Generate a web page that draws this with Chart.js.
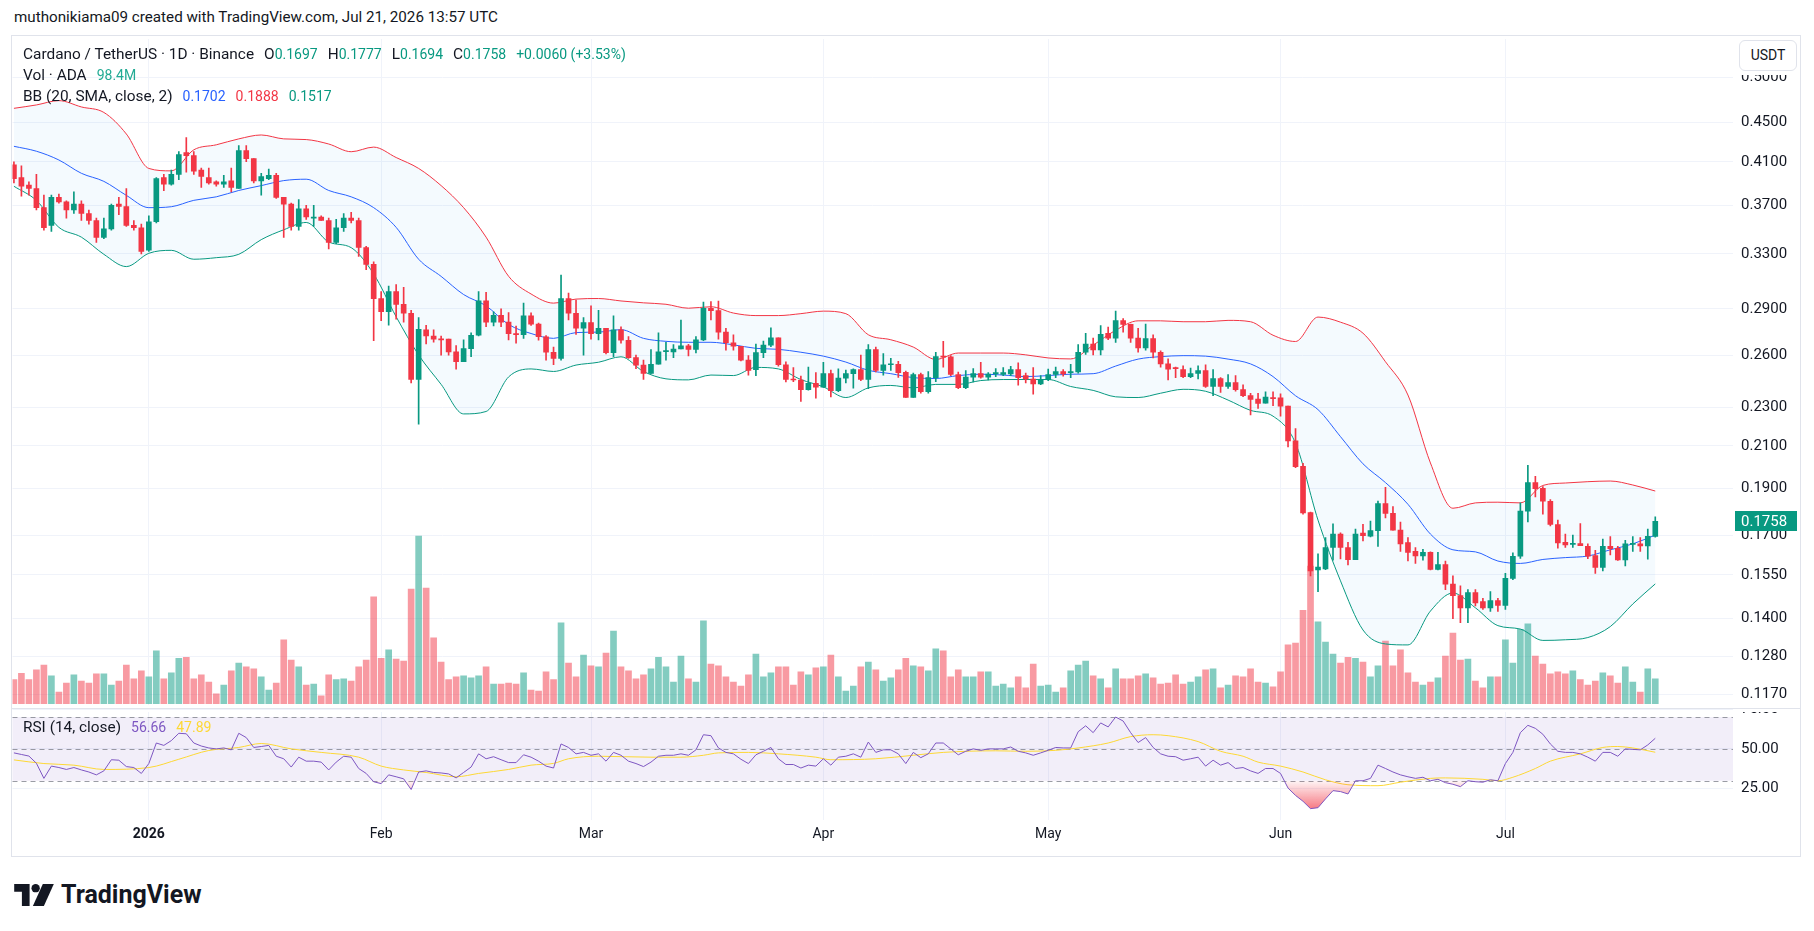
<!DOCTYPE html>
<html><head><meta charset="utf-8">
<script src="https://cdn.jsdelivr.net/npm/chart.js@4.4.1/dist/chart.umd.min.js"></script>
<style>
html,body{margin:0;padding:0;background:#fff;width:1814px;height:931px;overflow:hidden;font-family:Roboto,"Noto Sans",sans-serif;color:#131722}
#top{position:absolute;left:14px;top:8px;font-size:15.2px;white-space:nowrap}
#frame{position:absolute;left:11px;top:35px;width:1790px;height:822px;border:1px solid #e0e3eb;box-sizing:border-box}
canvas{position:absolute}
#cp{left:12px;top:22px;z-index:2}
#cr{left:12px;top:695px;z-index:1}
#sep{position:absolute;left:12px;top:708px;width:1788px;height:1px;background:#e0e3eb;z-index:3}
#axcover{position:absolute;left:1734px;top:36px;width:66px;height:39px;background:#fff;z-index:3}
.leg{position:absolute;left:23px;font-size:15.4px;white-space:nowrap;z-index:4;line-height:20px}
.leg span{font-size:14px;margin-left:10px}
.leg span.n{margin-left:0}
.leg .k{font-size:15.4px}
.g{color:#089981}
#usdt{position:absolute;left:1739px;top:40px;width:58px;height:31px;border:1px solid #e0e3eb;border-radius:6px;background:#fff;font-size:14px;line-height:29px;text-align:center;box-sizing:border-box;z-index:4}
#logo{position:absolute;left:14px;top:880px;display:flex;align-items:center;gap:7px;font-weight:bold;font-size:25px;color:#131722}
</style></head>
<body>
<div id="top">muthonikiama09 created with TradingView.com, Jul 21, 2026 13:57 UTC</div>
<div id="frame"></div>
<canvas id="cp" width="1788" height="700"></canvas>
<canvas id="cr" width="1788" height="161"></canvas>
<div id="sep"></div>
<div id="axcover"></div>
<div class="leg" style="top:44px">Cardano / TetherUS · 1D · Binance<span class="k">O</span><span class="g n">0.1697</span><span class="k">H</span><span class="g n">0.1777</span><span class="k">L</span><span class="g n">0.1694</span><span class="k">C</span><span class="g n">0.1758</span><span class="g">+0.0060 (+3.53%)</span></div>
<div class="leg" style="top:65px">Vol · ADA<span style="color:#22ab94">98.4M</span></div>
<div class="leg" style="top:86px">BB (20, SMA, close, 2)<span style="color:#2962FF">0.1702</span><span style="color:#F23645">0.1888</span><span style="color:#089981">0.1517</span></div>
<div class="leg" style="top:717px">RSI (14, close)<span style="color:#7E57C2">56.66</span><span style="color:#FDD835">47.89</span></div>
<div id="usdt">USDT</div>
<div id="logo"><svg width="40" height="22" viewBox="0 0 36 20"><path d="M0 0H14V20H7V7H0Z" fill="#131722"/><circle cx="19.5" cy="3.8" r="3.8" fill="#131722"/><path d="M26 0H36L27 20H17Z" fill="#131722"/></svg><span>TradingView</span></div>
<script>
// ---- data: day index 0 = 2025-12-14 ----
const monthDays = [18,49,77,108,138,169,199];
const monthLabels = ['2026','Feb','Mar','Apr','May','Jun','Jul'];
const priceTicks = [0.117,0.128,0.14,0.155,0.17,0.19,0.21,0.23,0.26,0.29,0.33,0.37,0.41,0.45,0.5];
const rsiTicks = [25,50,75];

const open = [
0.407,0.395,0.388,0.385,0.368,0.353,0.377,0.373,0.366,0.371,
0.363,0.357,0.343,0.350,0.371,0.369,0.353,0.351,0.333,0.356,
0.395,0.389,0.398,0.419,0.416,0.402,0.395,0.391,0.389,0.392,
0.385,0.421,0.413,0.392,0.394,0.397,0.377,0.371,0.352,0.367,
0.359,0.360,0.357,0.339,0.351,0.359,0.357,0.335,0.322,0.297,
0.288,0.302,0.293,0.287,0.2455,0.276,0.272,0.270,0.270,0.262,
0.256,0.264,0.2725,0.2955,0.281,0.2855,0.281,0.2735,0.2728,0.2853,
0.2797,0.2715,0.2618,0.258,0.297,0.287,0.277,0.2808,0.2735,0.277,
0.2616,0.276,0.2693,0.2585,0.254,0.249,0.2545,0.2622,0.262,0.2638,
0.2657,0.2635,0.2695,0.2903,0.2888,0.2745,0.2677,0.2655,0.257,0.2513,
0.2616,0.2662,0.2709,0.2542,0.2457,0.2452,0.2397,0.2433,0.2411,0.2489,
0.2391,0.2463,0.2489,0.2513,0.2455,0.2635,0.2508,0.2542,0.2545,0.2497,
0.2354,0.2484,0.2386,0.2466,0.2595,0.259,0.2484,0.2408,0.2469,0.2489,
0.2469,0.2487,0.2485,0.2487,0.2513,0.2478,0.2458,0.2429,0.2455,0.2484,
0.2502,0.2495,0.2499,0.2618,0.2668,0.2633,0.2737,0.2706,0.2821,0.2795,
0.2706,0.2645,0.2703,0.2618,0.2547,0.2522,0.2513,0.2472,0.249,0.2507,
0.2415,0.2461,0.2415,0.2438,0.2397,0.2364,0.2345,0.2322,0.2352,0.2352,
0.2306,0.2125,0.2001,0.1795,0.1568,0.1572,0.1653,0.1706,0.1653,0.1606,
0.171,0.1698,0.172,0.1833,0.1791,0.1722,0.1672,0.1638,0.162,0.1634,
0.157,0.1588,0.1516,0.1476,0.1434,0.1486,0.1455,0.1434,0.1459,0.1442,
0.1537,0.1619,0.1801,0.1926,0.19,0.1843,0.1745,0.1673,0.1665,0.1668,
0.1657,0.1622,0.1577,0.1657,0.165,0.1605,0.1665,0.1667,0.1659,0.1697];

const high = [
0.410,0.406,0.391,0.398,0.379,0.379,0.380,0.374,0.382,0.374,
0.366,0.359,0.359,0.371,0.377,0.385,0.357,0.354,0.361,0.395,
0.398,0.402,0.420,0.434,0.420,0.404,0.404,0.392,0.397,0.404,
0.426,0.426,0.413,0.399,0.403,0.399,0.377,0.372,0.375,0.370,
0.370,0.361,0.359,0.358,0.363,0.364,0.359,0.336,0.324,0.302,
0.306,0.307,0.305,0.289,0.284,0.279,0.276,0.272,0.270,0.266,
0.2695,0.274,0.302,0.3015,0.288,0.290,0.2875,0.2785,0.294,0.2872,
0.2804,0.2722,0.265,0.314,0.301,0.296,0.284,0.292,0.289,0.277,
0.2853,0.278,0.2716,0.260,0.257,0.2635,0.274,0.268,0.2665,0.2824,
0.2667,0.2716,0.2946,0.295,0.2953,0.277,0.2728,0.2655,0.2598,0.2668,
0.2687,0.2773,0.2709,0.256,0.2525,0.2475,0.2528,0.2495,0.2557,0.251,
0.2517,0.251,0.2518,0.2601,0.2665,0.265,0.261,0.258,0.2563,0.2505,
0.2492,0.2492,0.2501,0.2618,0.2686,0.2598,0.2498,0.2507,0.2519,0.2557,
0.2495,0.2519,0.2525,0.2533,0.2553,0.2493,0.2525,0.2478,0.2516,0.2528,
0.2513,0.2545,0.2665,0.2737,0.2706,0.2788,0.2778,0.2885,0.2834,0.2798,
0.2769,0.2798,0.2727,0.2627,0.2577,0.2528,0.2536,0.2522,0.2536,0.2542,
0.2513,0.2466,0.2484,0.2478,0.2425,0.2377,0.2377,0.2385,0.2385,0.2374,
0.2306,0.2187,0.2015,0.1797,0.1628,0.1692,0.1748,0.1711,0.1673,0.1726,
0.1746,0.1759,0.1844,0.1904,0.182,0.1755,0.1692,0.1653,0.1646,0.1636,
0.1634,0.1601,0.1546,0.151,0.1497,0.1497,0.1466,0.149,0.1466,0.1555,
0.1632,0.1836,0.2006,0.1955,0.1908,0.185,0.1763,0.1706,0.1702,0.1749,
0.1667,0.1642,0.1686,0.1696,0.1657,0.1681,0.1696,0.1692,0.1726,0.1777];

const low = [
0.390,0.378,0.379,0.366,0.349,0.348,0.372,0.359,0.363,0.357,
0.354,0.339,0.342,0.349,0.362,0.352,0.349,0.330,0.332,0.355,
0.383,0.388,0.393,0.400,0.398,0.386,0.389,0.387,0.386,0.382,
0.385,0.410,0.390,0.379,0.393,0.376,0.343,0.349,0.349,0.358,
0.352,0.357,0.334,0.338,0.348,0.355,0.328,0.318,0.269,0.282,
0.279,0.283,0.281,0.2435,0.221,0.267,0.268,0.260,0.260,0.2515,
0.256,0.259,0.272,0.278,0.2785,0.278,0.2695,0.2675,0.2705,0.2788,
0.2693,0.2569,0.2542,0.257,0.2825,0.273,0.260,0.270,0.2695,0.2607,
0.259,0.2675,0.258,0.2518,0.2455,0.249,0.2545,0.257,0.2585,0.2638,
0.2595,0.2613,0.269,0.2825,0.270,0.263,0.263,0.2565,0.248,0.2478,
0.2585,0.2652,0.2533,0.2441,0.2443,0.2331,0.2394,0.235,0.241,0.2357,
0.2386,0.2435,0.2405,0.2449,0.2402,0.250,0.248,0.2508,0.2467,0.2354,
0.2354,0.2378,0.2378,0.2443,0.2528,0.2478,0.2402,0.2402,0.2441,0.2463,
0.2452,0.2472,0.2478,0.2478,0.2422,0.2435,0.2372,0.2426,0.2449,0.2466,
0.2475,0.2466,0.2492,0.2604,0.2601,0.2601,0.2697,0.2679,0.2745,0.2679,
0.2618,0.263,0.2583,0.2528,0.2452,0.2466,0.2466,0.2466,0.2458,0.241,
0.2364,0.2382,0.2404,0.2388,0.2358,0.2258,0.2293,0.2322,0.2309,0.2252,
0.2095,0.1995,0.1788,0.1546,0.149,0.1569,0.1604,0.1609,0.1586,0.1606,
0.1679,0.1695,0.1657,0.1772,0.1722,0.1638,0.1601,0.1592,0.1604,0.1568,
0.1568,0.1497,0.1398,0.1385,0.1385,0.144,0.1429,0.1422,0.1422,0.1429,
0.1532,0.1611,0.1755,0.1862,0.1788,0.1739,0.165,0.1653,0.1653,0.166,
0.161,0.1555,0.1564,0.1624,0.1603,0.1583,0.1638,0.1638,0.1608,0.1694];

const close = [
0.394,0.387,0.385,0.368,0.351,0.377,0.373,0.366,0.371,0.363,
0.357,0.343,0.350,0.370,0.369,0.353,0.351,0.332,0.356,0.394,
0.389,0.398,0.417,0.416,0.401,0.396,0.390,0.389,0.391,0.386,
0.421,0.413,0.392,0.396,0.397,0.377,0.371,0.352,0.367,0.360,
0.360,0.357,0.339,0.351,0.359,0.357,0.335,0.322,0.297,0.288,
0.302,0.293,0.287,0.2455,0.2763,0.272,0.270,0.2695,0.262,0.256,
0.264,0.2725,0.2955,0.281,0.2855,0.281,0.2735,0.2728,0.2853,0.2797,
0.2715,0.2618,0.258,0.297,0.287,0.277,0.2808,0.2735,0.277,0.2616,
0.276,0.2693,0.2585,0.254,0.249,0.2545,0.262,0.2628,0.2638,0.2657,
0.2635,0.2695,0.2903,0.2887,0.2745,0.2677,0.2655,0.257,0.2508,0.2616,
0.2662,0.2709,0.2542,0.2455,0.2452,0.2397,0.2433,0.2411,0.2489,0.2391,
0.2463,0.2489,0.2513,0.2455,0.2635,0.2508,0.2542,0.2545,0.2495,0.2354,
0.2484,0.2386,0.2466,0.2592,0.2587,0.2484,0.2408,0.2469,0.2489,0.2469,
0.2487,0.2495,0.2495,0.2513,0.2466,0.2458,0.2429,0.2455,0.2484,0.2502,
0.2487,0.2502,0.2618,0.2668,0.2633,0.2731,0.2706,0.2821,0.2795,0.2706,
0.2645,0.2703,0.2618,0.2547,0.2516,0.2519,0.2472,0.249,0.2507,0.2415,
0.2461,0.2415,0.2438,0.2397,0.2364,0.2342,0.232,0.2356,0.2347,0.2306,
0.2125,0.1999,0.1793,0.1564,0.1578,0.1653,0.1706,0.1653,0.1606,0.1706,
0.170,0.172,0.1833,0.1791,0.1722,0.1667,0.1634,0.162,0.1634,0.157,
0.1588,0.1516,0.1476,0.1434,0.1486,0.1451,0.1434,0.1459,0.1442,0.1537,
0.1619,0.1801,0.1926,0.1898,0.1843,0.1745,0.1671,0.1663,0.1667,0.166,
0.1619,0.1577,0.1657,0.1648,0.1605,0.1667,0.1668,0.1659,0.1697,0.1758];

// volume in millions of ADA
const volume = [
95,120,95,133,152,110,46,81,114,89,
81,118,118,73,89,152,98,129,106,208,
98,122,179,183,98,114,85,39,73,129,
160,145,137,106,54,81,251,172,145,73,
77,31,114,95,98,89,145,172,421,179,
212,176,168,451,660,455,259,164,95,106,
110,102,110,145,77,77,81,77,122,54,
50,125,95,318,160,106,191,149,145,199,
286,145,129,98,114,137,183,145,85,187,
98,85,326,156,149,106,85,69,114,195,
106,122,145,145,73,125,114,141,145,191,
106,50,69,145,164,133,89,102,133,179,
149,145,129,216,208,106,133,106,106,125,
125,69,77,62,106,62,156,69,73,46,
62,129,152,168,110,98,62,137,98,98,
110,118,102,77,81,114,77,85,106,133,
137,62,73,110,106,137,85,81,66,125,
232,239,368,542,322,243,195,160,183,179,
164,106,149,247,149,212,122,85,73,85,
102,187,278,172,176,89,62,106,106,251,
160,293,314,187,156,118,125,118,129,95,
73,89,122,110,81,145,85,46,137,98.4];

const bbDays = [0,3,6,9,12,15,18,21,24,27,30,33,36,39,42,45,48,51,54,57,60,63,66,69,72,75,78,81,84,87,90,93,96,99,102,105,108,111,114,117,120,123,126,129,132,135,138,141,144,147,150,153,156,159,162,165,168,171,174,177,180,183,186,189,192,195,198,201,204,207,210,213,216,219];
const bbUpper = [0.465,0.4687,0.4735,0.4665,0.4605,0.4377,0.4036,0.4013,0.4217,0.4267,0.4327,0.4367,0.4327,0.432,0.4275,0.4198,0.4244,0.4141,0.4036,0.3876,0.368,0.3433,0.3131,0.3003,0.2939,0.2967,0.2971,0.2954,0.2941,0.2931,0.2904,0.2914,0.2871,0.2854,0.2854,0.2867,0.2884,0.2867,0.2728,0.2696,0.265,0.2574,0.2613,0.2613,0.2613,0.2602,0.2583,0.2577,0.2662,0.2757,0.2819,0.2819,0.2813,0.2813,0.2822,0.2813,0.2725,0.2685,0.2844,0.281,0.2738,0.256,0.2367,0.2017,0.1813,0.1836,0.1839,0.1836,0.1913,0.1924,0.193,0.1933,0.1915,0.1888];
const bbMid = [0.4252,0.4203,0.4117,0.399,0.3915,0.3788,0.368,0.3688,0.3744,0.3775,0.3832,0.3876,0.3922,0.3935,0.3832,0.3775,0.368,0.3513,0.3259,0.313,0.2999,0.292,0.2795,0.2736,0.2705,0.2742,0.2745,0.2761,0.2705,0.2686,0.268,0.268,0.2664,0.2642,0.2636,0.2618,0.2594,0.2558,0.2509,0.2489,0.2466,0.2461,0.2478,0.2486,0.2481,0.2472,0.2478,0.2486,0.2489,0.2534,0.2576,0.2591,0.2597,0.2594,0.2576,0.2547,0.2472,0.2363,0.2287,0.2146,0.2013,0.1926,0.183,0.1706,0.1644,0.1636,0.1601,0.1592,0.1607,0.1614,0.162,0.1644,0.1667,0.1702];
const bbLower = [0.387,0.3743,0.3513,0.3433,0.3297,0.3203,0.3305,0.3328,0.3259,0.3271,0.3297,0.3413,0.3493,0.3554,0.3394,0.3349,0.3148,0.2846,0.2601,0.2427,0.2264,0.2277,0.247,0.2517,0.2502,0.254,0.2557,0.259,0.2502,0.2459,0.2453,0.2481,0.2478,0.2526,0.2517,0.2455,0.2413,0.2353,0.2407,0.2421,0.2407,0.2427,0.2427,0.2449,0.2455,0.2455,0.2455,0.2415,0.2393,0.2357,0.2353,0.2377,0.2399,0.2388,0.2339,0.2283,0.2252,0.2113,0.1763,0.1528,0.1361,0.1317,0.1314,0.1423,0.1485,0.1434,0.1375,0.1364,0.1328,0.133,0.1337,0.1372,0.1447,0.1517];

const rsi = [
47.5,46.5,45.5,41,31.5,39.2,38.3,37.1,38.3,36.8,
35.5,33.7,36.2,43.2,42.9,38.9,38.3,34.6,40.8,53.7,
52.2,55.2,59.8,59.5,53.7,51.8,50.6,50,50.6,49.4,
59.8,57.1,50.9,51.5,52.2,45.4,43.8,38.6,44.8,42.3,
42.3,41.7,36.8,41.7,45.4,44.8,37.7,34.6,29.4,28.2,
33.7,32.5,31.2,24.5,35.5,36.2,35.2,34.9,34.3,31.8,
35.2,38.6,46.9,43.8,45.1,43.2,41.4,41.4,46.3,44.8,
42.3,39.2,38,53.1,50.9,46.9,47.8,46,46.9,42.3,
47.8,46,42.3,40.8,38.9,41.7,45.4,46,46,46.9,
46,49.4,58.9,58.3,50.6,47.8,46.9,43.5,40.8,46.3,
48.5,50.9,43.8,40.2,40.2,38,39.8,39.2,43.8,39.8,
44.8,45.4,46.9,44.8,54.3,47.8,49.4,49.4,46.9,40.8,
47.8,44.5,46.9,53.7,53.7,50,46.3,48.5,50,49.1,
50,50,50,51.2,48.5,47.5,46,47.5,49.1,50.9,
50.6,50.6,60.8,64.5,60.2,66.3,63.8,70,67.5,60.2,
54,57.1,50.9,46.9,45.4,45.1,42.9,43.8,44.8,39.2,
42.9,39.8,41.4,37.7,38.3,36.2,34.6,37.7,37.7,34.6,
25.4,20.8,17.1,12.5,13.1,18.6,23.8,23.2,21.7,30,
30,31.5,39.8,37.7,35.5,33.7,32.5,31.5,32.2,30,
30.9,28.8,27.8,26.3,30,29.4,29.1,30.6,30,40.8,
47.8,60.2,64.8,62.9,59.2,53.1,48.5,47.8,47.8,46.9,
44.8,42.3,47.8,47.8,45.4,50,49.7,49.4,52.5,56.66];

const rsiMaDays = [0,4,8,12,18,22,26,30,33,37,41,46,49,52,55,59,62,66,69,72,74,78,85,89,92,94,98,102,107,109,115,120,124,131,135,139,142,146,149,152,154,158,161,164,166,169,172,175,178,182,185,189,191,196,198,200,203,205,209,212,214,216,219];
const rsiMa = [43.1,40.8,39.8,37.1,38.3,43.5,49,50.9,53.4,50,47.8,44.8,39.2,36.8,35.2,32.5,34.6,37.1,39.8,40.9,43.8,45.4,44.8,44.8,46,47.5,47.8,46.9,44.8,43.2,43.8,46,47.8,48.8,48.5,49.1,50.6,53.7,57.7,58.9,58.3,54.6,48.5,45.4,41.7,39.2,35.5,30.6,27.5,26.9,29.1,31.5,31.8,30.9,30,32.2,37.7,42.3,46.9,50.9,51.5,50.6,47.89];

// ---- checks ----
const N = close.length;
[open,high,low,volume,rsi].forEach((a,k)=>{ if(a.length!==N) throw new Error('length mismatch '+k+': '+a.length+' vs '+N); });
[bbUpper,bbMid,bbLower].forEach((a,k)=>{ if(a.length!==bbDays.length) throw new Error('bb length '+k+': '+a.length); });
if (rsiMa.length!==rsiMaDays.length) throw new Error('rsiMa length');

const UP='#089981', DN='#F23645';
const candleCol = close.map((c,i)=> c>=open[i]?UP:DN);
const volCol = close.map((c,i)=> c>=open[i]?'rgba(8,153,129,0.5)':'rgba(242,54,69,0.5)');
const X_MIN=-0.19, X_MAX=229.37;
const GRID='#f0f3fa';

Chart.defaults.font.family='Roboto, "Noto Sans", sans-serif';
Chart.defaults.color='#131722';

const monthTicks = s => { s.ticks = monthDays.map(v=>({value:v})); };

const lastPricePlugin = {
  id:'lastPrice',
  afterDraw(chart){
    const {ctx, chartArea, scales} = chart;
    const v = close[N-1];
    const y = Math.round(scales.y.getPixelForValue(v));
    ctx.save();
    ctx.fillStyle=UP;
    ctx.fillRect(chartArea.right+2, y-10, 62, 20);
    ctx.fillStyle='#fff';
    ctx.font='15px Roboto, sans-serif';
    ctx.textBaseline='middle';
    ctx.fillText(v.toFixed(4), chartArea.right+8, y+1);
    ctx.restore();
  }
};

const P_TOP = 22, R_TOP = 695; // canvas page offsets

const chartP = new Chart(document.getElementById('cp'), {
  type:'bar',
  data:{datasets:[
    {type:'bar', label:'Volume', data: volume.map((v,i)=>({x:i,y:v})), yAxisID:'yv', backgroundColor: volCol, barThickness:6, grouped:false, order:10},
    {type:'line', label:'BB upper', data: bbDays.map((d,i)=>({x:d,y:bbUpper[i]})), yAxisID:'y', borderColor:'#F23645', borderWidth:1, pointRadius:0, cubicInterpolationMode:'monotone', fill:'+2', backgroundColor:'rgba(33,150,243,0.05)', order:6},
    {type:'line', label:'BB basis', data: bbDays.map((d,i)=>({x:d,y:bbMid[i]})), yAxisID:'y', borderColor:'#2962FF', borderWidth:1, pointRadius:0, cubicInterpolationMode:'monotone', fill:false, order:5},
    {type:'line', label:'BB lower', data: bbDays.map((d,i)=>({x:d,y:bbLower[i]})), yAxisID:'y', borderColor:'#089981', borderWidth:1, pointRadius:0, cubicInterpolationMode:'monotone', fill:false, order:5},
    {type:'bar', label:'Wick', data: low.map((l,i)=>({x:i,y:[l,high[i]]})), yAxisID:'y', backgroundColor: candleCol, barThickness:1, grouped:false, order:1},
    {type:'bar', label:'Body', data: open.map((o,i)=>({x:i,y:[o,close[i]]})), yAxisID:'y', backgroundColor: candleCol, barThickness:5, minBarLength:1, grouped:false, order:0}
  ]},
  options:{
    responsive:false, animation:false, events:[],
    layout:{padding:{top:14,bottom:14,left:0,right:0}},
    plugins:{legend:{display:false}, tooltip:{enabled:false}},
    scales:{
      x:{type:'linear', min:X_MIN, max:X_MAX, bounds:'data', offset:false,
         grid:{color:GRID, drawTicks:false, offset:false}, border:{display:false},
         ticks:{display:false}, afterBuildTicks: monthTicks, afterFit: s=>{ s.height = 0; }},
      y:{type:'logarithmic', position:'right', min:0.11327, max:0.5513, bounds:'data',
         grid:{color:GRID, drawTicks:false}, border:{display:false},
         ticks:{color:'#131722', font:{size:15}, padding:8, callback:v=>Number(v).toFixed(4)},
         afterBuildTicks: s=>{ s.ticks = priceTicks.map(v=>({value:v})); },
         afterFit: s=>{ s.width = 67; }},
      yv:{type:'linear', display:false, min:-17, max:2629, bounds:'data'}
    }
  },
  plugins:[lastPricePlugin]
});

// calibrate price / volume ranges to the pane (0.5 at page y 77.5, 424.6 px per ln unit; volume base 703.7, 0.254 px per M)
(function(){
  const a = chartP.chartArea, top = P_TOP + a.top, bot = P_TOP + a.bottom;
  const K = 424.6, L5 = Math.log(0.5), Y5 = 77.5;
  chartP.options.scales.y.min = Math.exp(L5 - (bot - Y5)/K);
  chartP.options.scales.y.max = Math.exp(L5 + (Y5 - top)/K);
  const pxM = 0.254, base = 703.7;
  chartP.options.scales.yv.min = -(bot - base)/pxM;
  chartP.options.scales.yv.max = (base - top)/pxM;
  chartP.update('none');
})();

const rsiBandPlugin = {
  id:'rsiBand',
  beforeDatasetsDraw(chart){
    const {ctx, chartArea:a, scales} = chart;
    const y70 = scales.y.getPixelForValue(70), y50 = scales.y.getPixelForValue(50), y30 = scales.y.getPixelForValue(30);
    ctx.save();
    ctx.fillStyle='rgba(126,87,194,0.1)';
    ctx.fillRect(a.left, y70, a.right-a.left, y30-y70);
    ctx.strokeStyle='rgba(120,123,134,0.75)';
    ctx.lineWidth=1;
    ctx.setLineDash([5,4]);
    [y70,y50,y30].forEach(y=>{ ctx.beginPath(); ctx.moveTo(a.left, Math.round(y)+0.5); ctx.lineTo(a.right, Math.round(y)+0.5); ctx.stroke(); });
    ctx.restore();
  },
  afterDraw(chart){
    const {ctx, chartArea:a} = chart;
    ctx.clearRect(a.right, 0, chart.width-a.right, a.top);
  }
};

const chartR = new Chart(document.getElementById('cr'), {
  type:'line',
  data:{datasets:[
    {label:'RSI', data: rsi.map((v,i)=>({x:i,y:v})), borderColor:'#7E57C2', borderWidth:1, pointRadius:0,
     fill:{target:{value:30}, above:'rgba(0,0,0,0)', below:'rgba(242,54,69,0.3)'}, order:0},
    {label:'RSI MA', data: rsiMaDays.map((d,i)=>({x:d,y:rsiMa[i]})), borderColor:'#FDD835', borderWidth:1, pointRadius:0, cubicInterpolationMode:'monotone', fill:false, order:1}
  ]},
  options:{
    responsive:false, animation:false, events:[],
    layout:{padding:{top:14,bottom:0,left:0,right:0}},
    plugins:{legend:{display:false}, tooltip:{enabled:false}},
    scales:{
      x:{type:'linear', min:X_MIN, max:X_MAX, bounds:'data', offset:false,
         grid:{color:GRID, drawTicks:false}, border:{display:false},
         ticks:{autoSkip:false, maxRotation:0, padding:6, color:'#131722',
                font: c => (c.tick && c.tick.value===18) ? {size:14, weight:'bold'} : {size:14},
                callback: v => { const k = monthDays.indexOf(v); return k>=0 ? monthLabels[k] : ''; }},
         afterBuildTicks: monthTicks,
         afterFit: s=>{ s.height = 36; }},
      y:{type:'linear', position:'right', min:5.4, max:75.05, bounds:'data',
         grid:{color:GRID, drawTicks:false}, border:{display:false},
         ticks:{color:'#131722', font:{size:15}, padding:8, callback:v=>Number(v).toFixed(2)},
         afterBuildTicks: s=>{ s.ticks = rsiTicks.map(v=>({value:v})); },
         afterFit: s=>{ s.width = 67; }}
    }
  },
  plugins:[rsiBandPlugin]
});

// calibrate RSI range (50 at page y 748.9, 1.593 px per unit) and oversold gradient
(function(){
  const a = chartR.chartArea, top = R_TOP + a.top, bot = R_TOP + a.bottom;
  chartR.options.scales.y.max = 50 + (748.9 - top)/1.593;
  chartR.options.scales.y.min = 50 - (bot - 748.9)/1.593;
  chartR.update('none');
  const ys = chartR.scales.y;
  const g = chartR.ctx.createLinearGradient(0, ys.getPixelForValue(30), 0, ys.getPixelForValue(10));
  g.addColorStop(0,'rgba(242,54,69,0.05)');
  g.addColorStop(1,'rgba(242,54,69,0.75)');
  chartR.data.datasets[0].fill.below = g;
  chartR.update('none');
})();
</script>
</body></html>
